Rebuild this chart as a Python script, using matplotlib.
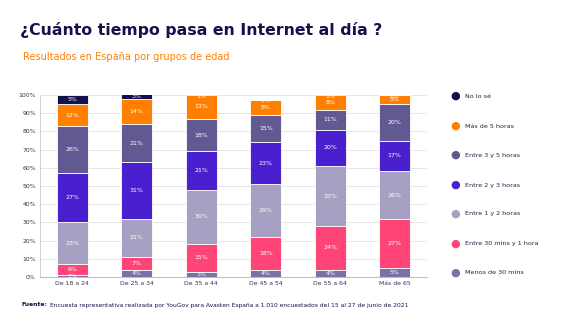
import matplotlib
matplotlib.use("Agg")
import matplotlib.pyplot as plt
import numpy as np

categories = ["De 18 a 24", "De 25 a 34", "De 35 a 44", "De 45 a 54", "De 55 a 64", "Más de 65"]
series_names = ["Menos de 30 mins", "Entre 30 mins y 1 hora", "Entre 1 y 2 horas",
                "Entre 2 y 3 horas", "Entre 3 y 5 horas", "Más de 5 horas", "No lo sé"]
menos_30 = [1, 4, 3, 4, 4, 5]
entre_30_1h = [6, 7, 15, 18, 24, 27]
entre_1_2h = [23, 21, 30, 29, 33, 26]
entre_2_3h = [27, 31, 21, 23, 20, 17]
entre_3_5h = [26, 21, 18, 15, 11, 20]
mas_5h = [12, 14, 13, 8, 8, 5]
no_lo_se = [5, 3, 1, 0, 1, 0]
series_values = [menos_30, entre_30_1h, entre_1_2h, entre_2_3h, entre_3_5h, mas_5h, no_lo_se]
colors = ["#7a72a6", "#ff4577", "#a6a0c2", "#4a1fcf", "#615a92", "#ff7f00", "#160f4d"]
ytick_vals = list(range(0, 101, 10))

fig = plt.figure(figsize=(5.66, 3.19), dpi=100)
ax = fig.add_axes([40 / 566, 1 - 277 / 319, 387 / 566, 182 / 319])

x = np.arange(len(categories))
bottom = np.zeros(len(categories))
for name, vals, col in zip(series_names, series_values, colors):
    vals = np.array(vals, dtype=float)
    ax.bar(x, vals, bottom=bottom, width=0.48, color=col, edgecolor="white",
           linewidth=0.6, zorder=3)
    for xi, b, v in zip(x, bottom, vals):
        ax.text(xi, min(b + v / 2, 99), f"{int(v)}%", ha="center", va="center",
                color="white", fontsize=4.5, zorder=4)
    bottom += vals

ax.set_xlim(-0.5, len(categories) - 0.5)
ax.set_ylim(0, 100)
ax.set_yticks(ytick_vals)
ax.set_yticklabels([f"{v}%" for v in ytick_vals], fontsize=4.4, color="#333355")
ax.set_xticks(x)
ax.set_xticklabels(categories, fontsize=4.4, color="#333355")
ax.tick_params(axis="both", length=0, pad=3)
ax.grid(axis="y", color="#e6e6e6", linewidth=0.7, zorder=0)
for s in ["top", "right"]:
    ax.spines[s].set_visible(False)
ax.spines["left"].set_color("#d0d0d0")
ax.spines["bottom"].set_color("#c0c0c0")
ax.spines["left"].set_linewidth(0.7)
ax.spines["bottom"].set_linewidth(0.8)

# legend (top to bottom: reversed order)
leg_y = [96, 126, 155, 185, 214, 244, 273]
for yy, name, col in zip(leg_y, series_names[::-1], colors[::-1]):
    fig.text(455 / 566, 1 - yy / 319, "\u25CF", color=col, fontsize=8,
             ha="center", va="center")
    fig.text(465 / 566, 1 - yy / 319, name, color="#222244", fontsize=4.6,
             ha="left", va="center")

fig.text(20 / 566, 1 - 30 / 319, "¿Cuánto tiempo pasa en Internet al día ?",
         fontsize=11.3, fontweight="bold", color="#14104a", ha="left", va="center")
fig.text(23 / 566, 1 - 57 / 319, "Resultados en España por grupos de edad",
         fontsize=7.0, color="#ff7f00", ha="left", va="center")
t1 = fig.text(22 / 566, 1 - 305 / 319, "Fuente:", fontsize=4.3, fontweight="bold",
              color="#14104a", ha="left", va="center")
fig.canvas.draw()
bb = t1.get_window_extent(renderer=fig.canvas.get_renderer())
fig.text((bb.x1 + 2) / 566, 1 - 305 / 319,
         "Encuesta representativa realizada por YouGov para Avasten España a 1.010 encuestados del 15 al 27 de junio de 2021",
         fontsize=4.3, color="#14104a", ha="left", va="center")

fig.savefig("out.png", dpi=100)
